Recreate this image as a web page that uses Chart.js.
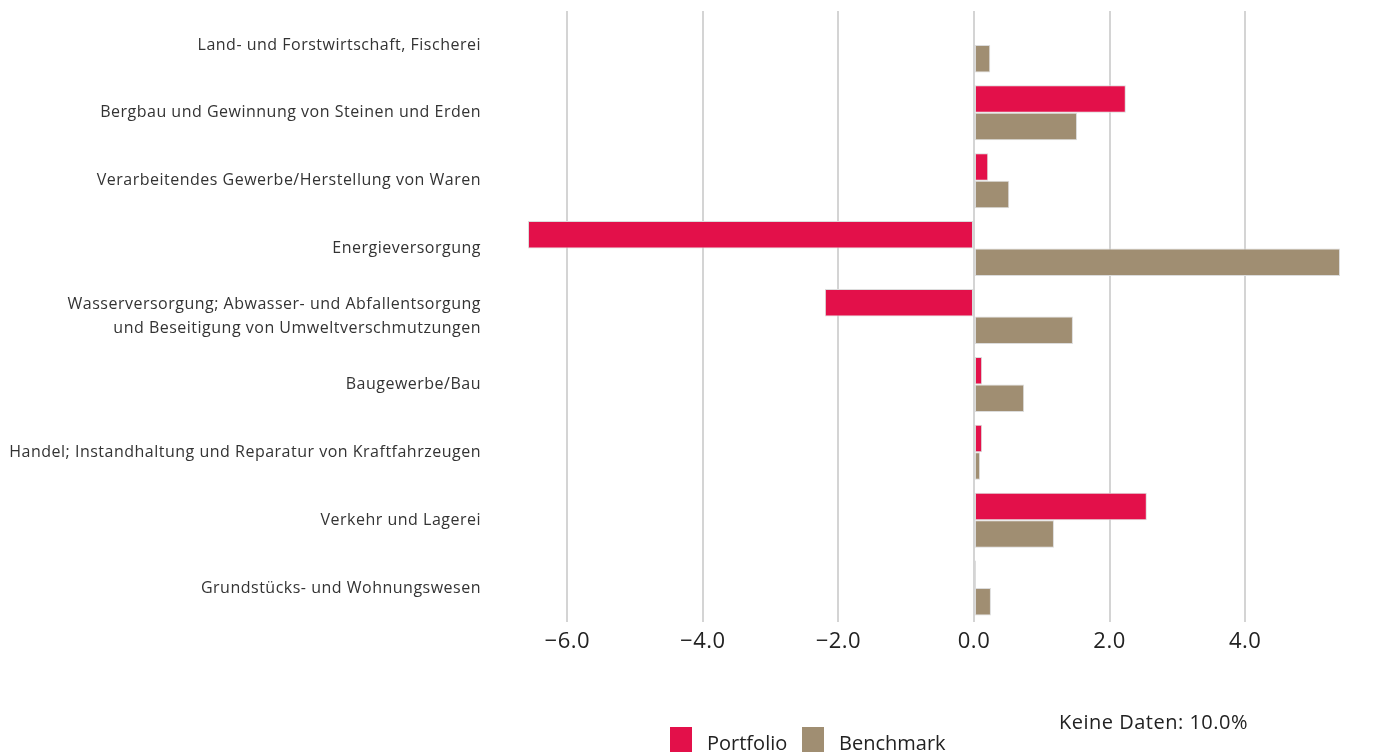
<!DOCTYPE html>
<html>
<head>
<meta charset="utf-8">
<script src="https://cdn.jsdelivr.net/npm/chart.js@4/dist/chart.umd.min.js"></script>
<style>
    html, body { margin: 0; padding: 0; background: #fff; }
    #wrap { position: relative; width: 1374px; height: 752px; overflow: hidden; font-family: "Open Sans", sans-serif; color: #222; }
    #chart { position: absolute; left: 0; top: 0; }
    .lg { position: absolute; top: 727px; font-size: 20px; line-height: 26px; }
    .lg i { display: inline-block; width: 22px; height: 26px; vertical-align: top; margin-right: 15px; }
    #note { position: absolute; left: 1059px; top: 708px; font-size: 20px; letter-spacing: 0.5px; }
</style>
</head>
<body>
<div id="wrap">
    <canvas id="chart" width="1374" height="752"></canvas>
    <div class="lg" style="left:670px;"><i style="background:#E3104A"></i><span style="position:relative;top:3px">Portfolio</span></div>
    <div class="lg" style="left:802px;"><i style="background:#A08E72"></i><span style="position:relative;top:3px">Benchmark</span></div>
    <div id="note">Keine Daten: 10.0%</div>
</div>
<script>
    var categories = [
        'Land- und Forstwirtschaft, Fischerei',
        'Bergbau und Gewinnung von Steinen und Erden',
        'Verarbeitendes Gewerbe/Herstellung von Waren',
        'Energieversorgung',
        ['Wasserversorgung; Abwasser- und Abfallentsorgung', 'und Beseitigung von Umweltverschmutzungen'],
        'Baugewerbe/Bau',
        'Handel; Instandhaltung und Reparatur von Kraftfahrzeugen',
        'Verkehr und Lagerei',
        'Grundstücks- und Wohnungswesen'
    ];
    var portfolio = [0, 2.24, 0.21, -6.58, -2.20, 0.12, 0.12, 2.55, 0.03];
    var benchmark = [0.24, 1.52, 0.52, 5.40, 1.46, 0.74, 0.09, 1.18, 0.25];
    var xTicks = [-6, -4, -2, 0, 2, 4];

    function fmt(v) {
        var s = Math.abs(v).toFixed(1);
        return v < 0 ? '\u2212' + s : s;
    }

    // slightly wider text, closer to the original typeface
    var spacing = {
        id: 'spacing',
        beforeDraw: function (chart) { chart.ctx.letterSpacing = '0.5px'; }
    };

    new Chart(document.getElementById('chart'), {
        type: 'bar',
        data: {
            labels: categories,
            datasets: [{
                label: 'Portfolio',
                data: portfolio,
                backgroundColor: '#E3104A',
                borderColor: '#dcdcdc',
                borderWidth: 1,
                borderSkipped: false,
                categoryPercentage: 0.81,
                barPercentage: 1
            }, {
                label: 'Benchmark',
                data: benchmark,
                backgroundColor: '#A08E72',
                borderColor: '#dcdcdc',
                borderWidth: 1,
                borderSkipped: false,
                categoryPercentage: 0.81,
                barPercentage: 1
            }]
        },
        plugins: [spacing],
        options: {
            indexAxis: 'y',
            responsive: false,
            animation: false,
            layout: { padding: { top: 11, right: 34, bottom: 0, left: 0 } },
            plugins: { legend: { display: false }, tooltip: { enabled: false } },
            scales: {
                x: {
                    min: -6.58,
                    max: 5.40,
                    afterBuildTicks: function (axis) {
                        axis.ticks = xTicks.map(function (v) { return { value: v }; });
                    },
                    afterFit: function (axis) {
                        axis.height = 130;
                        axis.paddingLeft = 0;
                        axis.paddingRight = 0;
                    },
                    grid: { color: '#d4d4d4', lineWidth: 2, drawTicks: false },
                    border: { display: false },
                    ticks: {
                        padding: 7,
                        color: '#222',
                        font: { family: 'Open Sans', size: 22 },
                        callback: function (v) { return fmt(v); }
                    }
                },
                y: {
                    afterFit: function (axis) {
                        axis.width = 528;
                        axis.paddingTop = 0;
                        axis.paddingBottom = 0;
                    },
                    grid: { display: false, drawTicks: false },
                    border: { display: false },
                    ticks: {
                        padding: 47,
                        color: '#333',
                        font: { family: 'Open Sans', size: 16, lineHeight: 1.5 }
                    }
                }
            }
        }
    });
</script>
</body>
</html>
